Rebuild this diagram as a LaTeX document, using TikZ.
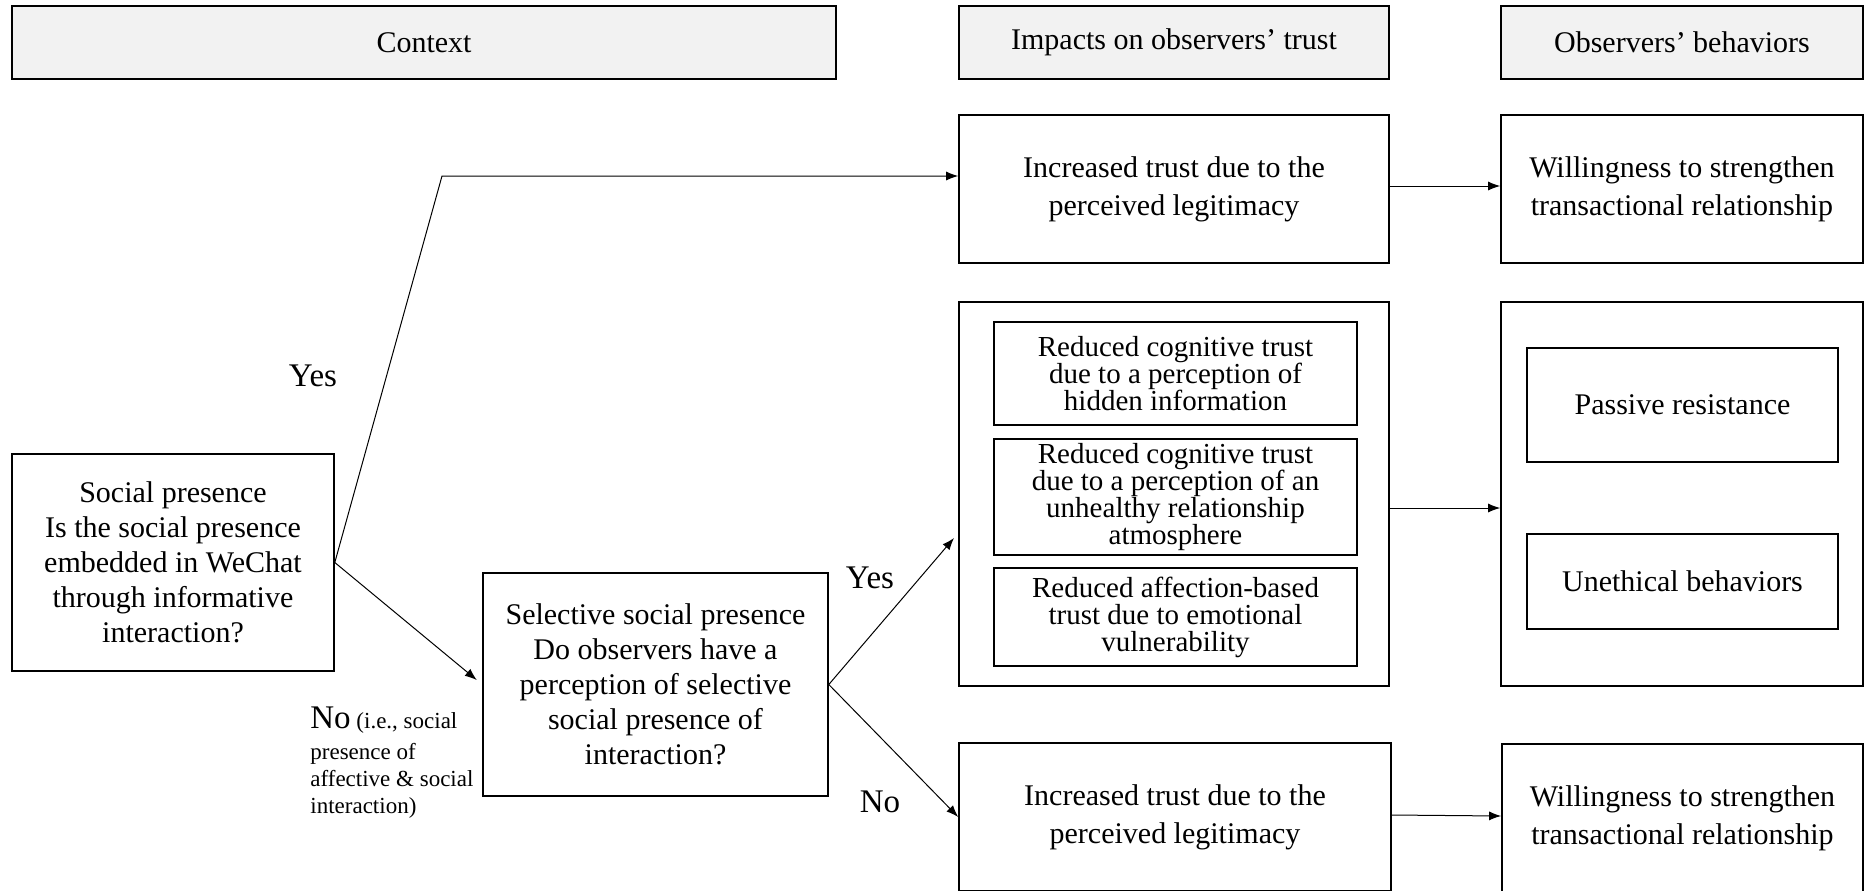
\documentclass[tikz,border=0pt]{standalone}
\usepackage{fontspec}
\setmainfont{Liberation Serif}
\usetikzlibrary{arrows.meta}
\begin{document}
\begin{tikzpicture}[x=0.5pt,y=-0.5pt,
  hdr/.style={draw, line width=1pt, fill=black!5, font=\fontsize{15}{18}\selectfont, inner sep=0pt, minimum height=36.5pt},
  box/.style={draw, line width=0.8pt, align=center, inner sep=0pt, font=\fontsize{15}{17.5}\selectfont},
  tbox/.style={box, font=\fontsize{15}{19}\selectfont},
  ibox/.style={box, font=\fontsize{14.5}{13.5}\selectfont},
  arr/.style={line width=0.5pt, -{Latex[length=6pt,width=4.5pt]}},
  lbl/.style={font=\fontsize{16.5}{19}\selectfont, inner sep=0pt}]
\useasboundingbox (0,0) rectangle (1865,890);
% headers
\node[hdr, minimum width=412pt] (ctx) at (424,42.5) {Context};
\node[hdr, minimum width=215pt] (imp) at (1174,42.5) {Impacts on observers’ trust};
\node[hdr, minimum width=181pt] (obs) at (1682,42.5) {Observers’ behaviors};
% top row
\node[tbox, minimum width=215pt, minimum height=74pt] (t1) at (1174,189) {Increased trust due to the\\perceived legitimacy};
\node[tbox, minimum width=181pt, minimum height=74pt] (w1) at (1682,189) {Willingness to strengthen\\transactional relationship};
% middle row
\node[box, minimum width=215pt, minimum height=192pt] (mid) at (1174,494) {};
\node[ibox, minimum width=181.5pt, minimum height=51.5pt] (i1) at (1175.5,373.5) {Reduced cognitive trust\\due to a perception of\\hidden information};
\node[ibox, minimum width=181.5pt, minimum height=58pt] (i2) at (1175.5,497) {Reduced cognitive trust\\due to a perception of an\\unhealthy relationship\\atmosphere};
\node[ibox, minimum width=181.5pt, minimum height=49pt] (i3) at (1175.5,617) {Reduced affection-based\\trust due to emotional\\vulnerability};
\node[box, minimum width=181pt, minimum height=192pt] (rb) at (1682,494) {};
\node[box, minimum width=155.5pt, minimum height=57pt] (pr) at (1682.5,405) {Passive resistance};
\node[box, minimum width=155.5pt, minimum height=47.5pt] (ue) at (1682.5,581.5) {Unethical behaviors};
% bottom row
\node[tbox, minimum width=216pt, minimum height=74pt] (t2) at (1175,817) {Increased trust due to the\\perceived legitimacy};
\node[tbox, minimum width=180.5pt, minimum height=74pt] (w2) at (1682.5,818) {Willingness to strengthen\\transactional relationship};
% decision boxes
\node[box, minimum width=161pt, minimum height=108.5pt] (sp) at (173,562.5) {Social presence\\Is the social presence\\embedded in WeChat\\through informative\\interaction?};
\node[box, minimum width=172.5pt, minimum height=111.5pt] (ssp) at (655.5,684.5) {Selective social presence\\Do observers have a\\perception of selective\\social presence of\\interaction?};
% coordinates
\coordinate (yesc) at (442,176);
\coordinate (ya) at (954,538);
% connectors
\draw[arr] (sp.east) -- (yesc) -- (yesc -| t1.west);
\draw[arr, shorten >=3.5pt] (sp.east) -- (ssp.west);
\draw[arr] (ssp.east) -- (ya);
\draw[arr] (ssp.east) -- (t2.west);
\draw[arr] ([yshift=1.5pt]t1.east) -- ([yshift=1.5pt]w1.west);
\draw[arr] ([yshift=-7pt]mid.east) -- ([yshift=-7pt]rb.west);
\draw[arr] ([yshift=1pt]t2.east) -- ([yshift=1pt]w2.west);
% labels
\node[lbl] (yes1) at (313,376) {Yes};
\node[lbl] (yes2) at (870,578) {Yes};
\node[lbl] (no2) at (880,802) {No};
\node[inner sep=0pt, anchor=base west, align=left, font=\fontsize{11.5}{13.5}\selectfont] (no1) at (310,813)
  {{\fontsize{16.5}{19}\selectfont No} (i.e., social\\[2pt]presence of\\affective \& social\\interaction)};
\end{tikzpicture}
\end{document}
